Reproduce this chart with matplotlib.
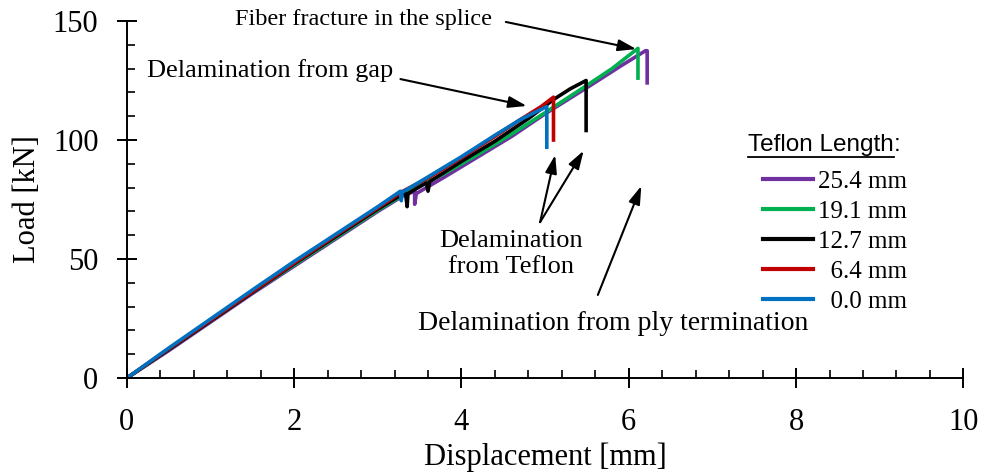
import matplotlib
matplotlib.use("Agg")
import matplotlib.pyplot as plt
from matplotlib.lines import Line2D
from matplotlib.ticker import MultipleLocator

plt.rcParams["font.family"] = "Liberation Serif"

# load-displacement curves, one per teflon length
x_254 = [0, 0.5, 1.0, 1.5, 2.0, 2.5, 3.0, 3.3, 3.44, 3.44, 3.46, 3.8, 4.2, 4.6, 5.0, 5.5, 5.9, 6.2, 6.22, 6.22]
y_254 = [0, 11.5, 23.5, 35.5, 47, 58.5, 70, 76.5, 78.5, 73, 77.5, 84.5, 93, 101.5, 111, 122, 131, 137.5, 137.5, 124]

x_191 = [0, 0.5, 1.0, 1.5, 2.0, 2.5, 3.0, 3.4, 3.8, 4.2, 4.6, 5.0, 5.5, 5.8, 6.0, 6.11, 6.11]
y_191 = [0, 12, 24, 36, 47.5, 59, 70.5, 79, 86, 94, 102.5, 111.5, 123, 130, 135.5, 138.5, 126]

x_127 = [0, 0.5, 1.0, 1.5, 2.0, 2.5, 3.0, 3.33, 3.35, 3.36, 3.58, 3.6, 3.62, 4.0, 4.4, 4.8, 5.1, 5.3, 5.49, 5.49]
y_127 = [0, 12, 24, 36, 48, 59.5, 71, 78, 72, 77.5, 82, 78.5, 82.5, 91, 99.5, 109, 117, 121.5, 125, 104]

x_64 = [0, 0.5, 1.0, 1.5, 2.0, 2.5, 3.0, 3.3, 3.6, 4.0, 4.4, 4.7, 4.95, 5.1, 5.1]
y_64 = [0, 12.3, 24.3, 36.3, 48.3, 60, 71.5, 78.5, 84, 92.5, 101.5, 108.5, 114, 118, 100]

x_00 = [0, 0.5, 1.0, 1.5, 2.0, 2.5, 3.0, 3.27, 3.28, 3.29, 3.6, 4.0, 4.4, 4.7, 4.9, 5.02, 5.02]
y_00 = [0, 12.6, 24.8, 37, 49, 60.5, 72, 78.5, 74.5, 78, 84.5, 93, 102, 108.5, 112, 114, 97]

series_x = [x_254, x_191, x_127, x_64, x_00]
series_y = [y_254, y_191, y_127, y_64, y_00]
labels = ["25.4 mm", "19.1 mm", "12.7 mm", "  6.4 mm", "  0.0 mm"]
colors = ["#7030a0", "#00b050", "#000000", "#c00000", "#0070c0"]

W, H = 984, 474
fig = plt.figure(figsize=(9.84, 4.74), dpi=100)
ax = fig.add_axes([0.129, 0.2025, 0.85, 0.7532])

for xs, ys, lab, c in zip(series_x, series_y, labels, colors):
    ax.plot(xs, ys, color=c, lw=2.6, label=lab, solid_joinstyle="round")

ax.set_xlim(0, 10)
ax.set_ylim(0, 150)
ax.xaxis.set_major_locator(MultipleLocator(2))
ax.xaxis.set_minor_locator(MultipleLocator(0.4))
ax.yaxis.set_major_locator(MultipleLocator(50))
ax.yaxis.set_minor_locator(MultipleLocator(10))
for s in ["top", "right"]:
    ax.spines[s].set_visible(False)
for s in ["left", "bottom"]:
    ax.spines[s].set_linewidth(1.4)
ax.tick_params(which="major", direction="inout", length=15, width=1.4,
               labelsize=22)
ax.tick_params(axis="y", which="major", pad=13)
ax.tick_params(axis="x", which="major", pad=14)
ax.tick_params(which="minor", direction="in", length=6, width=1.2)
ax.set_xlabel("Displacement [mm]", fontsize=22, labelpad=4)
ax.set_ylabel("Load [kN]", fontsize=22, labelpad=8)

leg = ax.legend(loc="upper left", bbox_to_anchor=(763 / W, 1 - 170 / H),
                bbox_transform=fig.transFigure, frameon=False,
                fontsize=18, handlelength=2.0, handletextpad=0.2,
                labelspacing=0.3, borderpad=0, borderaxespad=0)
for h in leg.get_lines():
    h.set_linewidth(3)

# legend heading, underlined (sans like the original)
t = fig.text(748 / W, 1 - 145 / H, "Teflon Length", family="Liberation Sans",
             fontsize=17.5, ha="left", va="center")
fig.canvas.draw()
bb = t.get_window_extent()
fig.text(bb.x1 / W, 1 - 145 / H, ":", family="Liberation Sans",
         fontsize=17.5, ha="left", va="center")
fig.add_artist(Line2D([bb.x0 / W, bb.x1 / W], [(bb.y0 - 1) / H] * 2,
                      transform=fig.transFigure, color="black", lw=1.3))

# annotations
arrow = dict(arrowstyle="-|>,head_length=1.1,head_width=0.35", color="black",
             lw=1.5, shrinkA=0, shrinkB=0)
ax.text(4.37, 150.5, "Fiber fracture in the splice", fontsize=17.5,
        ha="right", va="center", clip_on=False)
ax.annotate("", xy=(6.09, 138.2), xytext=(4.53, 149.6), arrowprops=arrow,
            annotation_clip=False)

ax.text(3.18, 129.4, "Delamination from gap", fontsize=19,
        ha="right", va="center")
ax.annotate("", xy=(4.78, 114.3), xytext=(3.27, 125.6), arrowprops=arrow)

ax.text(4.59, 52.1, "Delamination\nfrom Teflon", fontsize=19,
        ha="center", va="center", linespacing=1.2)
ax.annotate("", xy=(5.12, 93.7), xytext=(4.94, 65.5), arrowprops=arrow)
ax.annotate("", xy=(5.46, 95.5), xytext=(4.94, 65.5), arrowprops=arrow)

ax.text(5.81, 23.1, "Delamination from ply termination", fontsize=20,
        ha="center", va="center")
ax.annotate("", xy=(6.15, 80.7), xytext=(5.63, 34.9), arrowprops=arrow)

fig.savefig("out.png", dpi=100)
